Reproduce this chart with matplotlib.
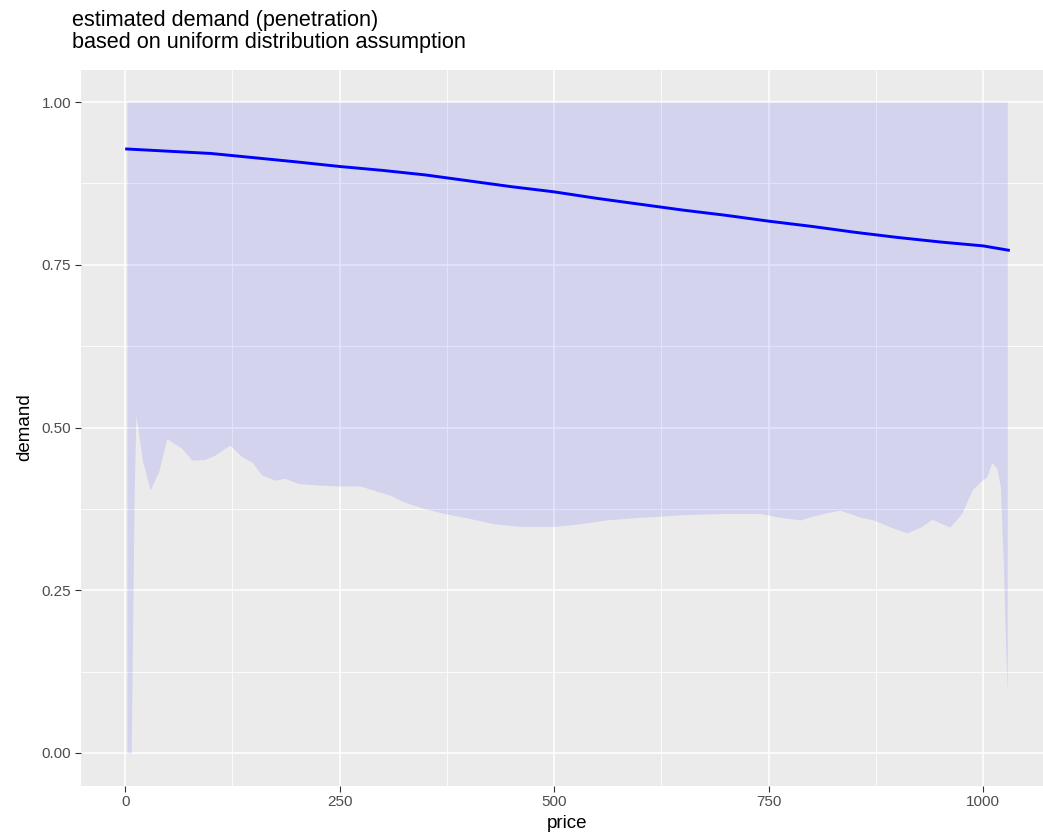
import matplotlib
matplotlib.use("Agg")
import matplotlib.pyplot as plt
import numpy as np

plt.rcParams["font.family"] = ["Liberation Sans", "DejaVu Sans"]

# estimated demand curve
price = [0, 100, 200, 250, 300, 350, 400, 450, 500, 550, 600, 650, 700, 750,
         800, 850, 900, 950, 1000, 1031]
demand = [0.928, 0.921, 0.908, 0.901, 0.895, 0.888, 0.879, 0.870, 0.862, 0.852,
          0.843, 0.834, 0.826, 0.817, 0.809, 0.800, 0.792, 0.785, 0.779, 0.772]

# lower edge of the band (upper edge is 1)
band_price = [2, 7, 8.5, 10.5, 12.5, 20, 29, 39, 48.6, 66, 77.7, 93, 105, 112.7,
              122, 136, 147.6, 159, 175, 186, 202, 221, 250, 274, 289, 309, 324,
              347, 375, 399, 430, 460, 500, 530, 560, 600, 650, 700, 740, 763,
              787, 802, 814, 833, 857, 872, 892, 911, 927, 940, 961, 975, 987,
              996, 1004, 1010, 1016, 1020, 1023.5, 1026, 1028]
band_low = [0, 0, 0.18, 0.40, 0.519, 0.45, 0.404, 0.432, 0.483, 0.468, 0.450,
            0.451, 0.458, 0.465, 0.473, 0.455, 0.447, 0.427, 0.419, 0.422, 0.414,
            0.412, 0.410, 0.410, 0.404, 0.396, 0.386, 0.376, 0.367, 0.361, 0.352,
            0.348, 0.348, 0.352, 0.358, 0.362, 0.366, 0.368, 0.368, 0.362, 0.358,
            0.364, 0.368, 0.373, 0.362, 0.358, 0.347, 0.338, 0.347, 0.359, 0.347,
            0.368, 0.404, 0.416, 0.424, 0.446, 0.437, 0.409, 0.29, 0.169, 0.092]
band_high = [1.0] * len(band_price)

x_ticks = [0, 250, 500, 750, 1000]
y_ticks = [0.0, 0.25, 0.5, 0.75, 1.0]
y_labels = ["0.00", "0.25", "0.50", "0.75", "1.00"]

fig = plt.figure(figsize=(10.43, 8.39), dpi=100)
ax = fig.add_axes([81 / 1043, 1 - 785.5 / 839, (1054 - 81) / 1043, (785.5 - 69.5) / 839])
ax.set_facecolor("#EBEBEB")

ax.fill_between(band_price, band_low, band_high, color="blue", alpha=0.1, linewidth=0)
ax.plot(price, demand, color="blue", linewidth=2.1, solid_capstyle="butt")

ax.set_xlim(-51.5, 1082.5)
ax.set_ylim(-0.05, 1.05)
ax.set_xticks(x_ticks)
ax.set_xticklabels([str(t) for t in x_ticks])
ax.set_yticks(y_ticks)
ax.set_yticklabels(y_labels)
ax.set_xticks([125, 375, 625, 875], minor=True)
ax.set_yticks([0.125, 0.375, 0.625, 0.875], minor=True)

ax.set_axisbelow(True)
ax.grid(which="major", color="white", linewidth=1.15)
ax.grid(which="minor", color="white", linewidth=0.6)
for s in ax.spines.values():
    s.set_visible(False)

ax.tick_params(which="major", length=4, width=0.8, color="#333333",
               labelcolor="#4D4D4D", labelsize=11, pad=3)
ax.tick_params(which="minor", length=0)

ax.set_xlabel("price", fontsize=13.5, color="black", labelpad=4)
ax.set_ylabel("demand", fontsize=13.5, color="black", labelpad=6)

fig.text(72 / 1043, 1 - 10 / 839,
         "estimated demand (penetration)\nbased on uniform distribution assumption",
         ha="left", va="top", fontsize=15.6, color="black", linespacing=1.08)

fig.savefig("out.png", dpi=100)
